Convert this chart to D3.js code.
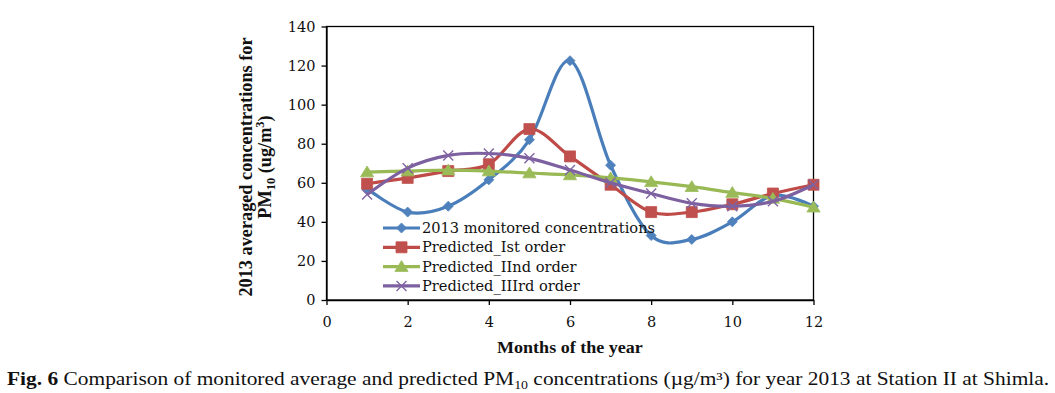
<!DOCTYPE html>
<html>
<head>
<meta charset="utf-8">
<script src="https://cdn.jsdelivr.net/npm/d3@7"></script>
<style>
  body { margin: 0; background: #fff; }
  svg { display: block; }
</style>
</head>
<body>
<div id="chart"></div>
<script>
// months on x, values in ug/m3
const months = [1, 2, 3, 4, 5, 6, 7, 8, 9, 10, 11, 12]
const monitored = [57, 45, 48, 61.5, 82, 122.5, 69, 33, 31, 40, 53.5, 48]
const predicted1 = [59.5, 62.5, 66, 69.5, 87.5, 73.5, 59, 45, 45, 49, 54.5, 59]
const predicted2 = [65.5, 66, 66.5, 66, 65, 64, 62.5, 60.5, 58, 55, 52, 47.5]
const predicted3 = [54, 67.5, 74, 75, 72.5, 66.5, 60, 54.5, 49.5, 48, 50.5, 59]
const seriesNames = ['2013 monitored concentrations', 'Predicted_Ist order', 'Predicted_IInd order', 'Predicted_IIIrd order']
const xTicks = [0, 2, 4, 6, 8, 10, 12]
const yTicks = [0, 20, 40, 60, 80, 100, 120, 140]

const w = 1055
const h = 393

const series = [
  {name: seriesNames[0], values: monitored, line: '#4a7ebb', fill: '#4f81bd', marker: 'diamond'},
  {name: seriesNames[1], values: predicted1, line: '#be4b48', fill: '#c0504d', marker: 'square'},
  {name: seriesNames[2], values: predicted2, line: '#98b954', fill: '#9bbb59', marker: 'triangle'},
  {name: seriesNames[3], values: predicted3, line: '#7d60a0', fill: '#8064a2', marker: 'x'}
]

const svg = d3.select('#chart').append('svg')
  .attr('width', w)
  .attr('height', h)

const x = d3.scaleLinear().domain([0, 12]).range([326.5, 813.5])
const y = d3.scaleLinear().domain([0, 140]).range([300, 26.5])

// plot box
svg.append('rect')
  .attr('x', x(0)).attr('y', y(140))
  .attr('width', x(12) - x(0)).attr('height', y(0) - y(140))
  .attr('fill', 'none').attr('stroke', '#000').attr('stroke-width', 1.3)

const xAxis = svg.append('g')
  .attr('transform', `translate(0,${y(0)})`)
  .call(d3.axisBottom(x).tickValues(xTicks).tickSize(5).tickPadding(12).tickSizeOuter(0))
const yAxis = svg.append('g')
  .attr('transform', `translate(${x(0)},0)`)
  .call(d3.axisLeft(y).tickValues(yTicks).tickSize(5).tickPadding(6).tickSizeOuter(0))

for (const ax of [xAxis, yAxis]) {
  ax.select('.domain').attr('stroke', '#000').attr('stroke-width', 1.3)
  ax.selectAll('.tick line').attr('stroke', '#000').attr('stroke-width', 1.3)
  ax.selectAll('.tick text')
    .attr('font-family', 'DejaVu Serif')
    .attr('font-size', 14.5)
    .attr('fill', '#111')
}

function markerPath(type, s) {
  if (type == 'diamond') return `M0,${-s}L${s},0L0,${s}L${-s},0Z`
  if (type == 'square') return `M${-s},${-s}H${s}V${s}H${-s}Z`
  if (type == 'triangle') return `M0,${-s}L${s * 1.1},${s * 0.8}L${-s * 1.1},${s * 0.8}Z`
  return `M${-s},${-s}L${s},${s}M${-s},${s}L${s},${-s}`
}
const markerSize = {diamond: 5, square: 5.5, triangle: 6, x: 5}

function drawMarker(g, s, cx, cy) {
  const p = g.append('path')
    .attr('d', markerPath(s.marker, markerSize[s.marker]))
    .attr('transform', `translate(${cx},${cy})`)
  if (s.marker == 'x') {
    p.attr('fill', 'none').attr('stroke', s.fill).attr('stroke-width', 1.4)
  } else {
    p.attr('fill', s.fill).attr('stroke', s.fill).attr('stroke-width', 0.8)
  }
}

const line = d3.line()
  .x((d, i) => x(months[i]))
  .y(d => y(d))
  .curve(d3.curveCardinal.tension(0))

series.forEach(s => {
  const g = svg.append('g')
  g.append('path')
    .attr('d', line(s.values))
    .attr('fill', 'none')
    .attr('stroke', s.line)
    .attr('stroke-width', 3.2)
    .attr('stroke-linejoin', 'round')
  s.values.forEach((v, i) => drawMarker(g, s, x(months[i]), y(v)))
})

// legend
const legend = svg.append('g')
series.forEach((s, i) => {
  const ly = 228 + i * 19.3
  legend.append('line')
    .attr('x1', 383).attr('x2', 420).attr('y1', ly).attr('y2', ly)
    .attr('stroke', s.line).attr('stroke-width', 3.2)
  drawMarker(legend, s, 401.5, ly)
  legend.append('text')
    .attr('x', 422).attr('y', ly + 5)
    .attr('font-family', 'DejaVu Serif')
    .attr('font-size', 14.6)
    .attr('fill', '#111')
    .text(s.name)
})

// stretch a text horizontally so it spans width tw, anchored at its left edge
function fit(t, x0, y0, tw) {
  const bw = t.node().getBBox().width
  t.attr('x', 0).attr('y', 0)
    .attr('transform', `translate(${x0},${y0}) scale(${tw / bw},1)`)
}

// axis titles
const xt = svg.append('text')
  .attr('font-family', 'Liberation Serif')
  .attr('font-weight', 'bold')
  .attr('font-size', 16.5)
  .attr('fill', '#111')
  .text('Months of the year')
fit(xt, 497, 353, 146)

const yt = svg.append('g').attr('transform', 'translate(252,167) rotate(-90)')
const yt1 = yt.append('text')
  .attr('text-anchor', 'middle')
  .attr('font-family', 'Liberation Serif')
  .attr('font-weight', 'bold')
  .attr('font-size', 16)
  .attr('fill', '#111')
  .text('2013 averaged concentrations for')
// size the first line so it spans the same height as the reference
const fs = 16 * 259 / yt1.node().getBBox().width
yt1.attr('font-size', fs)
const yt2 = yt.append('text')
  .attr('text-anchor', 'middle')
  .attr('y', 19)
  .attr('font-family', 'Liberation Serif')
  .attr('font-weight', 'bold')
  .attr('font-size', fs)
  .attr('fill', '#111')
yt2.append('tspan').text('PM')
yt2.append('tspan').attr('font-size', fs * 0.68).attr('dy', 4).text('10')
yt2.append('tspan').attr('dy', -4).text(' (ug/m')
yt2.append('tspan').attr('font-size', fs * 0.68).attr('dy', -7).text('3')
yt2.append('tspan').attr('dy', 7).text(')')

// caption
const cap = svg.append('text')
  .attr('font-family', 'Liberation Serif')
  .attr('font-size', 18.5)
  .attr('fill', '#111')
cap.append('tspan').attr('font-weight', 'bold').text('Fig. 6')
cap.append('tspan').text(' Comparison of monitored average and predicted PM')
cap.append('tspan').attr('font-size', 12).attr('dy', 4).text('10')
cap.append('tspan').attr('dy', -4).text(' concentrations (\u00b5g/m\u00b3) for year 2013 at Station II at Shimla.')
fit(cap, 7, 385, 1043)
</script>
</body>
</html>
